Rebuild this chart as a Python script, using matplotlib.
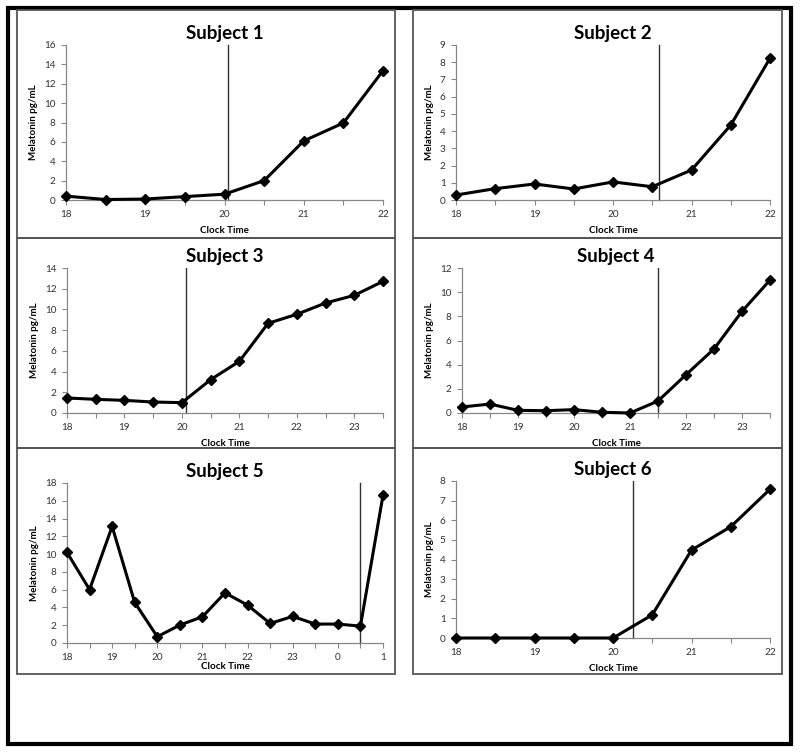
import numpy as np
import matplotlib.pyplot as plt
from matplotlib.patches import Rectangle

plt.rcParams['font.family'] = ['Lato', 'DejaVu Sans']

# half-hourly sampling times (hours; 24 = midnight)
t_s1 = [18, 18.5, 19, 19.5, 20, 20.5, 21, 21.5, 22]
v_s1 = [0.4, 0.05, 0.1, 0.35, 0.6, 2.0, 6.1, 7.95, 13.35]

t_s2 = [18, 18.5, 19, 19.5, 20, 20.5, 21, 21.5, 22]
v_s2 = [0.29, 0.66, 0.93, 0.64, 1.05, 0.77, 1.74, 4.35, 8.23]

t_s3 = [18, 18.5, 19, 19.5, 20, 20.5, 21, 21.5, 22, 22.5, 23, 23.5]
v_s3 = [1.45, 1.32, 1.22, 1.06, 1.0, 3.22, 4.99, 8.66, 9.53, 10.62, 11.36, 12.71]

t_s4 = [18, 18.5, 19, 19.5, 20, 20.5, 21, 21.5, 22, 22.5, 23, 23.5]
v_s4 = [0.5, 0.74, 0.22, 0.19, 0.28, 0.06, 0.0, 0.99, 3.17, 5.3, 8.41, 11.0]

t_s5 = [18, 18.5, 19, 19.5, 20, 20.5, 21, 21.5, 22, 22.5, 23, 23.5, 24, 24.5, 25]
v_s5 = [10.19, 6.01, 13.11, 4.56, 0.71, 2.02, 2.95, 5.64, 4.26, 2.2, 2.99, 2.13, 2.13, 1.9, 16.62]

t_s6 = [18, 18.5, 19, 19.5, 20, 20.5, 21, 21.5, 22]
v_s6 = [0, 0, 0, 0, 0, 1.18, 4.48, 5.67, 7.58]

# onset markers (vertical lines)
onsets = [20.04, 20.59, 20.07, 21.5, 24.49, 20.26]
ymaxes = [16, 9, 14, 12, 18, 8]
ysteps = [2, 1, 2, 2, 2, 1]

times = [t_s1, t_s2, t_s3, t_s4, t_s5, t_s6]
values = [v_s1, v_s2, v_s3, v_s4, v_s5, v_s6]
titles = ['Subject 1', 'Subject 2', 'Subject 3', 'Subject 4', 'Subject 5', 'Subject 6']
xlabel_pads = [5, 5, 5, 5, 0, 5]

W, H = 800, 753
fig = plt.figure(figsize=(W / 100, H / 100), dpi=100)


def fx(px):
    return px / W


def fy(py):
    return 1 - py / H


# outer frame
fig.patches.append(Rectangle((fx(7.5), fy(744)), fx(791) - fx(7.5), fy(7.5) - fy(744),
                             transform=fig.transFigure, fill=False, ec='black', lw=3))

# panel boxes (left, top, right, bottom) in pixels
panels = [(17, 10, 395, 238), (413, 10, 782, 238),
          (17, 238, 395, 448), (413, 238, 782, 448),
          (17, 448, 395, 674), (413, 448, 782, 674)]
# plot areas (left, top, right, bottom) in pixels
areas = [(66, 45, 383, 200), (456, 45, 770, 200),
         (67, 268, 383, 413), (462, 268, 770, 413),
         (67, 483, 383, 643), (456, 481, 770, 638)]

for i in range(6):
    l, t, r, b = panels[i]
    fig.patches.append(Rectangle((fx(l), fy(b)), fx(r) - fx(l), fy(t) - fy(b),
                                 transform=fig.transFigure, fill=False, ec='#555555', lw=1.3))
    al, at, ar, ab = areas[i]
    ax = fig.add_axes([fx(al), fy(ab), fx(ar) - fx(al), fy(at) - fy(ab)])
    x = times[i]
    y = values[i]
    ax.plot(x, y, color='black', lw=2.2, marker='D', ms=5.5, zorder=3, clip_on=False)
    ax.plot([onsets[i], onsets[i]], [0, ymaxes[i]], color='#333333', lw=1, zorder=2, clip_on=False)
    ax.set_xlim(x[0], x[-1])
    ax.set_ylim(0, ymaxes[i])
    ax.set_yticks(np.arange(0, ymaxes[i] + 1, ysteps[i]))
    major = np.arange(18, int(x[-1]) + 1)
    ax.set_xticks(major)
    ax.set_xticklabels([str(int(h) % 24) for h in major])
    ax.set_xticks(x, minor=True)
    for s in ['top', 'right']:
        ax.spines[s].set_visible(False)
    for s in ['left', 'bottom']:
        ax.spines[s].set_color('#888888')
        ax.spines[s].set_linewidth(0.9)
    ax.tick_params(which='both', direction='out', length=3.5, width=0.8, color='#888888',
                   labelsize=7.2, labelcolor='#333333', pad=4)
    ax.set_title(titles[i], fontsize=13.5, fontweight='bold', pad=4)
    ax.set_xlabel('Clock Time', fontsize=7, fontweight='bold', labelpad=xlabel_pads[i])
    ax.set_ylabel('Melatonin pg/mL', fontsize=7, fontweight='bold', labelpad=4)

fig.savefig('out.png', dpi=100)
